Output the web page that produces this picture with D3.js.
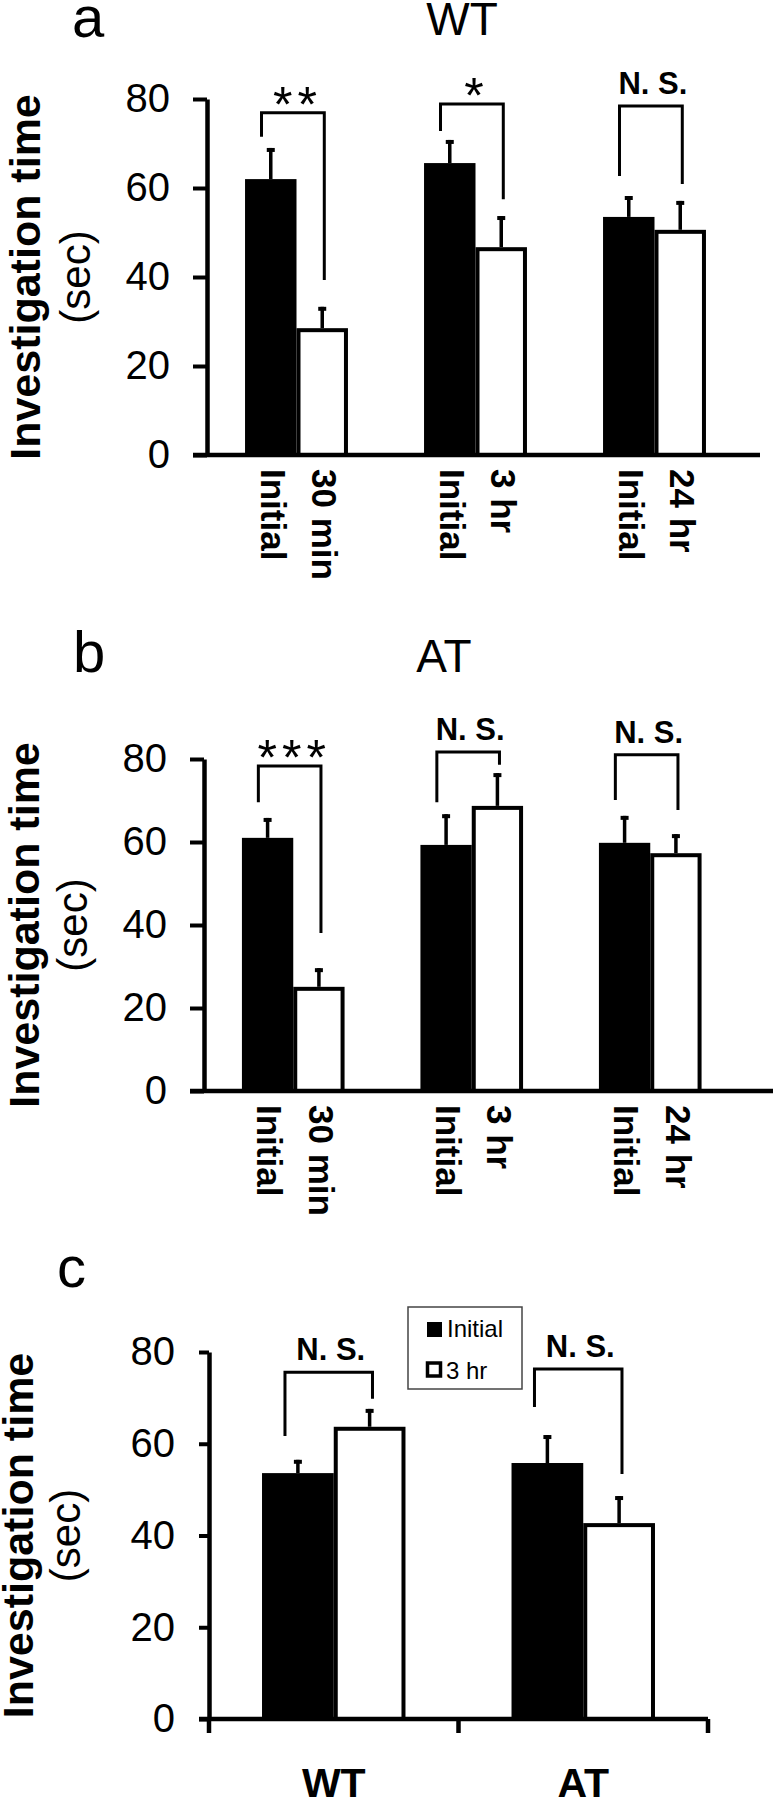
<!DOCTYPE html>
<html><head><meta charset="utf-8">
<script src="https://cdn.jsdelivr.net/npm/d3@7/dist/d3.min.js"></script>
<style>
body{margin:0;background:#fff}
svg{display:block}
text{font-family:"Liberation Sans",Arial,Helvetica,sans-serif;fill:#000}
</style>
</head><body>
<svg id="chart" width="775" height="1800"></svg>
<script>
// ---------- data ----------
const yTicks = [0, 20, 40, 60, 80];
const seriesNames = ["Initial", "3 hr"];

// Panel a (WT)
const groupsA = ["30 min", "3 hr", "24 hr"];
const initialA = [62.0, 65.6, 53.5];
const initialErrA = [7.0, 5.2, 4.7];
const laterA = [28.5, 46.7, 50.6];
const laterErrA = [4.8, 7.0, 6.5];
const sigA = ["**", "*", "N. S."];
const bracketTopA = [76.9, 78.9, 78.4];
const bracketLeftA = [71.5, 72.8, 62.7];
const bracketRightA = [39.3, 57.5, 60.9];

// Panel b (AT)
const groupsB = ["30 min", "3 hr", "24 hr"];
const initialB = [61.0, 59.3, 59.8];
const initialErrB = [4.8, 7.4, 6.5];
const laterB = [25.1, 68.7, 57.3];
const laterErrB = [4.5, 7.9, 4.6];
const sigB = ["***", "N. S.", "N. S."];
const bracketTopB = [78.3, 81.7, 81.0];
const bracketLeftB = [69.6, 69.6, 70.1];
const bracketRightB = [38.1, 78.6, 67.7];

// Panel c (Initial vs 3 hr)
const groupsC = ["WT", "AT"];
const initialC = [53.6, 55.8];
const initialErrC = [2.9, 6.1];
const laterC = [63.7, 42.7];
const laterErrC = [3.9, 5.9];
const sigC = ["N. S.", "N. S."];
const bracketTopC = [75.6, 76.3];
const bracketLeftC = [61.7, 68.0];
const bracketRightC = [69.8, 53.4];

// ---------- drawing ----------
const FONT = '"Liberation Sans",Arial,Helvetica,sans-serif';
const svg = d3.select("#chart");

function drawPanel(c) {
  const g = svg.append("g");
  const y = d3.scaleLinear().domain([0, 80]).range([c.y0, c.y80]);
  const x = d3.scaleBand().domain(c.groups)
    .range([c.axisX, c.axisX + c.step * c.groups.length])
    .paddingInner(0.425).paddingOuter(0.2125);
  const sub = d3.scaleBand().domain(["initial", "later"]).range([0, x.bandwidth()]);
  const bw = sub.bandwidth();

  const rows = c.groups.map((grp, i) => ({
    grp, ini: c.initial[i], iniErr: c.initialErr[i], lat: c.later[i], latErr: c.laterErr[i],
    sig: c.sig[i], bt: c.bTop[i], bl: c.bLeft[i], br: c.bRight[i]
  }));

  // panel letter
  g.append("text").attr("x", c.letterX).attr("y", c.letterY)
    .attr("font-size", 58).text(c.letter);
  if (c.title) {
    g.append("text").attr("x", c.titleX).attr("y", c.titleY)
      .attr("text-anchor", "middle").attr("font-size", 46).text(c.title);
  }

  // y title
  const yc = (c.y0 + c.y80) / 2;
  g.append("text").attr("transform", `translate(${c.yt1},${yc}) rotate(-90)`)
    .attr("text-anchor", "middle").attr("font-size", 43).attr("font-weight", "bold")
    .text("Investigation time");
  g.append("text").attr("transform", `translate(${c.yt2},${yc}) rotate(-90)`)
    .attr("text-anchor", "middle").attr("font-size", 42)
    .text("(sec)");

  // bars
  const grp = g.selectAll(".grp").data(rows).join("g")
    .attr("transform", d => `translate(${x(d.grp)},0)`);
  grp.append("rect").attr("x", sub("initial")).attr("width", bw)
    .attr("y", d => y(d.ini)).attr("height", d => y(0) - y(d.ini))
    .attr("fill", "#000");
  grp.append("rect").attr("x", sub("later") + 2).attr("width", bw - 4)
    .attr("y", d => y(d.lat) + 2).attr("height", d => y(0) - y(d.lat) - 2)
    .attr("fill", "#fff").attr("stroke", "#000").attr("stroke-width", 4);

  // error bars
  const errs = [];
  rows.forEach(d => {
    errs.push({cx: x(d.grp) + sub("initial") + bw / 2, v: d.ini, e: d.iniErr});
    errs.push({cx: x(d.grp) + sub("later") + bw / 2, v: d.lat, e: d.latErr});
  });
  g.selectAll(".eb").data(errs).join("line")
    .attr("x1", d => d.cx).attr("x2", d => d.cx)
    .attr("y1", d => y(d.v)).attr("y2", d => y(d.v + d.e))
    .attr("stroke", "#000").attr("stroke-width", 3.5);
  g.selectAll(".ec").data(errs).join("line")
    .attr("x1", d => d.cx - 4).attr("x2", d => d.cx + 4)
    .attr("y1", d => y(d.v + d.e) + 2).attr("y2", d => y(d.v + d.e) + 2)
    .attr("stroke", "#000").attr("stroke-width", 4);

  // significance brackets
  rows.forEach(d => {
    const lx = x(d.grp) + sub("initial") + bw * 0.32;
    const rx = x(d.grp) + sub("later") + bw * 0.54;
    g.append("path")
      .attr("d", `M${lx},${y(d.bl)}V${y(d.bt)}H${rx}V${y(d.br)}`)
      .attr("fill", "none").attr("stroke", "#000").attr("stroke-width", 3);
    const star = d.sig.indexOf("*") === 0;
    g.append("text").attr("x", (lx + rx) / 2 + 2)
      .attr("y", star ? y(d.bt) + 9 : y(d.bt) - 12)
      .attr("text-anchor", "middle")
      .attr("font-size", star ? 50 : 31)
      .attr("font-weight", star ? "normal" : "bold")
      .attr("letter-spacing", star ? 5 : 0)
      .attr("dx", star ? 2.5 : 0)
      .text(d.sig);
  });

  // y axis
  const yAxis = d3.axisLeft(y).tickValues(yTicks).tickSize(c.tick).tickSizeOuter(0).tickPadding(c.pad);
  const ga = g.append("g").attr("transform", `translate(${c.axisX},0)`).call(yAxis);
  ga.attr("font-size", 40).attr("font-family", FONT);
  ga.select(".domain").attr("stroke", "#000").attr("stroke-width", 4.5);
  ga.selectAll(".tick line").attr("stroke", "#000").attr("stroke-width", 4);
  ga.selectAll(".tick text").attr("fill", "#000");

  // x axis line
  const xr = c.xEnd != null ? c.xEnd : x.range()[1];
  g.append("line").attr("x1", c.axisX - c.tick).attr("x2", xr)
    .attr("y1", y(0)).attr("y2", y(0)).attr("stroke", "#000").attr("stroke-width", 4.5);

  if (c.rotLabels) {
    rows.forEach(d => {
      [["initial", seriesNames[0]], ["later", d.grp]].forEach(([k, t]) => {
        g.append("text")
          .attr("transform", `translate(${x(d.grp) + sub(k) + bw / 2 + 2},${y(0) + 14}) rotate(90)`)
          .attr("dy", "0.35em").attr("font-size", 35).attr("font-weight", "bold")
          .text(t);
      });
    });
  } else {
    // category separators
    const seps = d3.range(c.groups.length + 1).map(k => x.range()[0] + k * x.step());
    g.selectAll(".sep").data(seps).join("line")
      .attr("x1", d => d).attr("x2", d => d)
      .attr("y1", y(0)).attr("y2", y(0) + 14)
      .attr("stroke", "#000").attr("stroke-width", 4.5);
    g.selectAll(".cat").data(c.groups).join("text")
      .attr("x", d => x(d) + x.bandwidth() / 2)
      .attr("y", y(0) + 78)
      .attr("text-anchor", "middle").attr("font-size", 41).attr("font-weight", "bold")
      .text(d => d);
  }
  return {x, y, g};
}

drawPanel({letter: "a", letterX: 72, letterY: 37, title: "WT", titleX: 462, titleY: 35,
  axisX: 207, y0: 455, y80: 99, step: 179, xEnd: 760, tick: 14, pad: 23,
  yt1: 40, yt2: 90, rotLabels: true,
  groups: groupsA, initial: initialA, initialErr: initialErrA, later: laterA, laterErr: laterErrA,
  sig: sigA, bTop: bracketTopA, bLeft: bracketLeftA, bRight: bracketRightA});

drawPanel({letter: "b", letterX: 73, letterY: 672, title: "AT", titleX: 444, titleY: 672,
  axisX: 204, y0: 1091, y80: 759, step: 178.5, xEnd: 773, tick: 14, pad: 23,
  yt1: 39, yt2: 87, rotLabels: true,
  groups: groupsB, initial: initialB, initialErr: initialErrB, later: laterB, laterErr: laterErrB,
  sig: sigB, bTop: bracketTopB, bLeft: bracketLeftB, bRight: bracketRightB});

const pc = drawPanel({letter: "c", letterX: 57, letterY: 1287, title: null,
  axisX: 209, y0: 1719, y80: 1352, step: 249.5, xEnd: null, tick: 10, pad: 24,
  yt1: 33, yt2: 80, rotLabels: false,
  groups: groupsC, initial: initialC, initialErr: initialErrC, later: laterC, laterErr: laterErrC,
  sig: sigC, bTop: bracketTopC, bLeft: bracketLeftC, bRight: bracketRightC});

// legend for panel c
const lg = svg.append("g").attr("transform", "translate(408,1307)");
lg.append("rect").attr("x", 0).attr("y", 0).attr("width", 114).attr("height", 82)
  .attr("fill", "#fff").attr("stroke", "#444").attr("stroke-width", 1.5);
lg.append("rect").attr("x", 19).attr("y", 15).attr("width", 15).attr("height", 15).attr("fill", "#000");
lg.append("text").attr("x", 39).attr("y", 30).attr("font-size", 24).text(seriesNames[0]);
lg.append("rect").attr("x", 19.5).attr("y", 56).attr("width", 13).attr("height", 13)
  .attr("fill", "#fff").attr("stroke", "#000").attr("stroke-width", 3.5);
lg.append("text").attr("x", 38).attr("y", 72).attr("font-size", 24).text(seriesNames[1]);
</script>
</body></html>
